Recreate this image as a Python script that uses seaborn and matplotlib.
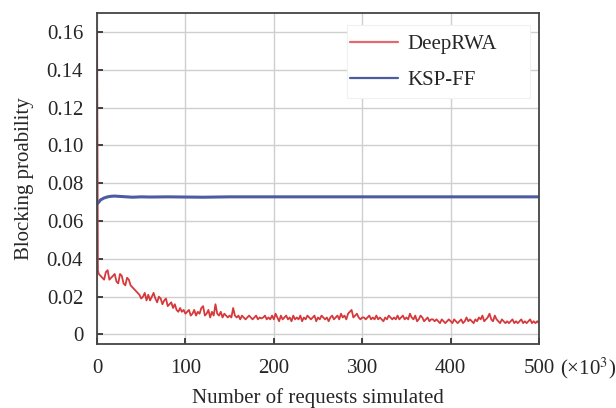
import numpy as np
import pandas as pd
from matplotlib import pyplot as plt
from matplotlib.patches import Rectangle
from matplotlib.ticker import FuncFormatter
import seaborn as sns

############### Data (x in thousands of requests) ###############
deep_x = [0, 1] + list(np.arange(2, 501, 2))
deep_y = [0.160, 0.034,
          # 2 - 40
          0.032, 0.031, 0.030, 0.029, 0.033, 0.034, 0.029, 0.030, 0.031, 0.032,
          0.028, 0.027, 0.032, 0.031, 0.027, 0.026, 0.030, 0.029, 0.026, 0.025,
          # 42 - 100
          0.024, 0.023, 0.022, 0.021, 0.019, 0.020, 0.022, 0.018, 0.021, 0.018,
          0.020, 0.022, 0.019, 0.017, 0.020, 0.019, 0.016, 0.018, 0.019, 0.015,
          0.016, 0.017, 0.014, 0.016, 0.013, 0.012, 0.014, 0.012, 0.013, 0.011,
          # 102 - 160
          0.012, 0.013, 0.010, 0.011, 0.013, 0.010, 0.012, 0.011, 0.014, 0.015,
          0.010, 0.011, 0.013, 0.009, 0.012, 0.010, 0.016, 0.011, 0.010, 0.012,
          0.009, 0.011, 0.010, 0.009, 0.010, 0.009, 0.014, 0.010, 0.009, 0.010,
          # 162 - 240
          0.008, 0.010, 0.009, 0.008, 0.009, 0.010, 0.009, 0.008, 0.009, 0.010,
          0.008, 0.009, 0.0085, 0.009, 0.010, 0.008, 0.009, 0.008, 0.010, 0.008,
          0.011, 0.009, 0.007, 0.010, 0.008, 0.009, 0.010, 0.008, 0.009, 0.007,
          0.010, 0.008, 0.009, 0.008, 0.010, 0.007, 0.009, 0.008, 0.010, 0.009,
          # 242 - 300
          0.008, 0.009, 0.010, 0.007, 0.009, 0.008, 0.010, 0.009, 0.008, 0.009,
          0.007, 0.009, 0.010, 0.008, 0.009, 0.010, 0.008, 0.011, 0.009, 0.010,
          0.008, 0.011, 0.012, 0.013, 0.009, 0.010, 0.011, 0.009, 0.008, 0.009,
          # 302 - 380
          0.009, 0.008, 0.009, 0.010, 0.008, 0.009, 0.008, 0.010, 0.008, 0.009,
          0.008, 0.007, 0.009, 0.008, 0.010, 0.009, 0.008, 0.009, 0.008, 0.010,
          0.008, 0.009, 0.010, 0.008, 0.009, 0.008, 0.011, 0.009, 0.008, 0.010,
          0.007, 0.008, 0.010, 0.009, 0.007, 0.008, 0.009, 0.007, 0.008, 0.008,
          # 382 - 440
          0.007, 0.008, 0.007, 0.006, 0.008, 0.007, 0.006, 0.007, 0.008, 0.007,
          0.006, 0.008, 0.007, 0.006, 0.007, 0.008, 0.006, 0.007, 0.009, 0.007,
          0.008, 0.007, 0.006, 0.008, 0.007, 0.009, 0.008, 0.010, 0.007, 0.008,
          # 442 - 500
          0.009, 0.011, 0.008, 0.007, 0.010, 0.008, 0.007, 0.006, 0.008, 0.007,
          0.006, 0.007, 0.006, 0.007, 0.008, 0.006, 0.007, 0.006, 0.007, 0.008,
          0.006, 0.007, 0.006, 0.007, 0.008, 0.006, 0.007, 0.006, 0.007, 0.006]

ksp_x = [0, 2, 4, 8, 12, 16, 20, 30, 40, 50, 60, 80, 100, 120, 150, 200,
         250, 300, 350, 400, 450, 500]
ksp_y = [0.0690, 0.0700, 0.0712, 0.0722, 0.0728, 0.0731, 0.0732, 0.0729,
         0.0726, 0.0728, 0.0727, 0.0728, 0.0727, 0.0726, 0.0728, 0.0728,
         0.0728, 0.0728, 0.0728, 0.0728, 0.0728, 0.0728]

df = pd.concat([
    pd.DataFrame({'x': deep_x, 'y': deep_y, 'method': 'DeepRWA'}),
    pd.DataFrame({'x': ksp_x, 'y': ksp_y, 'method': 'KSP-FF'}),
])

############### Plotting #############################
sns.set_style("whitegrid")
plt.rcParams['font.family'] = ['Liberation Serif', 'DejaVu Serif']
plt.rcParams['mathtext.fontset'] = 'stix'

fig = plt.figure(figsize=(6.16, 4.08), dpi=100)
ax = fig.add_axes([0.1575, 0.157, 0.7175, 0.811])

sns.lineplot(data=df[df.method == 'DeepRWA'], x='x', y='y', color='#d6393b',
             linewidth=1.3, ax=ax, label='DeepRWA')
sns.lineplot(data=df[df.method == 'KSP-FF'], x='x', y='y', color='#4c5ca3',
             linewidth=2.2, ax=ax, label='KSP-FF')

ax.set_xlim(0, 500)
ax.set_ylim(-0.005, 0.17)
ax.set_xticks([0, 100, 200, 300, 400, 500])
ax.set_yticks([0, 0.02, 0.04, 0.06, 0.08, 0.10, 0.12, 0.14, 0.16])
ax.yaxis.set_major_formatter(FuncFormatter(lambda v, p: '0' if abs(v) < 1e-9 else f'{v:.2f}'))

ax.grid(True, color='#cfcfcf', linewidth=1.0)
for s in ax.spines.values():
    s.set_color('#444444')
    s.set_linewidth(1.3)
ax.tick_params(direction='in', length=4, width=1.3, color='#333333',
               labelsize=15, left=True, bottom=True)
ax.tick_params(axis='y', pad=10)
ax.tick_params(axis='x', pad=11)

ax.set_xlabel("Number of requests simulated", fontsize=15, labelpad=7)
ax.set_ylabel("Blocking proability", fontsize=15, labelpad=9)

ax.annotate("(×10$^3$)", xy=(1.0, 0), xycoords='axes fraction',
            xytext=(15, -17.5), textcoords='offset points', fontsize=15,
            ha='left', va='center')

# white legend box covering the grid
ax.add_patch(Rectangle((0.566, 0.743), 0.414, 0.221, transform=ax.transAxes,
                       facecolor='white', edgecolor='#f0f0f0', linewidth=0.8,
                       zorder=1.5))

leg = ax.legend(loc='upper left', bbox_to_anchor=(0.5724, 0.936), fontsize=15,
                frameon=False, handlelength=2.3, handletextpad=0.45,
                labelspacing=0.8, borderaxespad=0.0, borderpad=0.0)
leg.legend_handles[0].set_color('#e06a70')
for h in leg.legend_handles:
    h.set_linewidth(1.6)

fig.savefig("out.png", dpi=100)
